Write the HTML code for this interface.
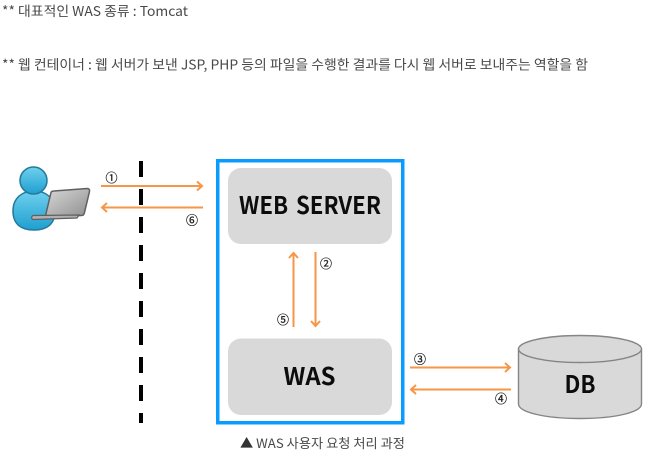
<!DOCTYPE html>
<html><head><meta charset="utf-8"><style>
html,body{margin:0;padding:0;background:#fff}
svg{display:block}
text{font-family:"Noto Sans CJK KR","Liberation Sans",sans-serif}
</style></head><body>
<svg width="665" height="470" viewBox="0 0 665 470" xmlns="http://www.w3.org/2000/svg">
<defs>
<linearGradient id="b" x1="0" y1="0" x2="0" y2="1"><stop offset="0" stop-color="#6fd0ee"/><stop offset="1" stop-color="#1f9fd0"/></linearGradient>
<linearGradient id="l" x1="0" y1="0" x2="1" y2="1"><stop offset="0" stop-color="#d8d8d8"/><stop offset="1" stop-color="#8f8f8f"/></linearGradient>
</defs>
<text x="2" y="16" font-size="13.500" fill="#484848" textLength="186" lengthAdjust="spacingAndGlyphs">** 대표적인 WAS 종류 : Tomcat</text>
<text x="2" y="69.500" font-size="13.500" fill="#484848" textLength="586" lengthAdjust="spacingAndGlyphs">** 웹 컨테이너 : 웹 서버가 보낸 JSP, PHP 등의 파일을 수행한 결과를 다시 웹 서버로 보내주는 역할을 함</text>

<!-- user -->
<path d="M13 211c0-13 9-20 21-20s21 7 21 20c0 13-8 19-21 19s-21-6-21-19z" fill="url(#b)" stroke="#23799b" stroke-width="1.500"/>
<circle cx="33.500" cy="180.500" r="13.500" fill="url(#b)" stroke="#23799b" stroke-width="1.500"/>
<path d="M54 191l33-2.500q3 0 2.500 3l-5 21q-.5 3-3 3l-34 1q-2 0-1.500-3l5-21q.5-1.500 3-1.500z" fill="url(#l)" stroke="#5f5f5f" stroke-width="1.500"/>
<path d="M33 215.500l46-.5-2 3-44 1.500q-3-2 0-4z" fill="#b0b0b0" stroke="#5f5f5f" stroke-width="1.200"/>

<!-- dashed -->
<line x1="141" y1="161" x2="141" y2="423" stroke="#000" stroke-width="4" stroke-dasharray="16 12"/>

<!-- arrows -->
<g fill="none" stroke="#f79646" stroke-width="2">
<path d="M101 186H202M197 181.500l5 4.500-5 4.500"/>
<path d="M203 207.500H102M107 203l-5 4.500 5 4.500"/>
<path d="M293.500 327V253M289 258l4.500-5 4.500 5"/>
<path d="M315.500 252V326M311 321l4.500 5 4.500-5"/>
<path d="M410 367.500H510M505 363l5 4.500-5 4.500"/>
<path d="M511 389.500H411M416 385l-5 4.500 5 4.500"/>
</g>

<!-- container -->
<rect x="217.750" y="160.750" width="185" height="262" fill="none" stroke="#0a9bff" stroke-width="3.500"/>
<rect x="228" y="168" width="164" height="76" rx="13" fill="#d9d9d9"/>
<rect x="228" y="338.500" width="164" height="76.500" rx="13" fill="#d9d9d9"/>
<text x="310" y="214" font-size="24" font-weight="700" fill="#0c0c0c" text-anchor="middle" word-spacing="3" textLength="142" lengthAdjust="spacingAndGlyphs">WEB SERVER</text>
<text x="309.500" y="385" font-size="24" font-weight="700" fill="#0c0c0c" text-anchor="middle" textLength="52" lengthAdjust="spacingAndGlyphs">WAS</text>

<!-- DB -->
<path d="M518.500 349V404C518.500 412 544 418.500 580 418.500S641.500 412 641.500 404V349z" fill="#d9d9d9" stroke="#858585" stroke-width="1.400"/>
<ellipse cx="580" cy="349" rx="61.500" ry="13.500" fill="#d9d9d9" stroke="#858585" stroke-width="1.400"/>
<text x="580" y="393" font-size="24" font-weight="700" fill="#0c0c0c" text-anchor="middle" textLength="31" lengthAdjust="spacingAndGlyphs">DB</text>

<!-- numbers -->
<g font-size="12" fill="#222" stroke="#222" stroke-width=".3" text-anchor="middle">
<text x="111.500" y="182">①</text>
<text x="192" y="224.500">⑥</text>
<text x="326" y="268">②</text>
<text x="283" y="324">⑤</text>
<text x="420" y="363.500">③</text>
<text x="501" y="403">④</text>
</g>

<text x="240" y="448" font-size="13" fill="#484848" textLength="165" lengthAdjust="spacingAndGlyphs"><tspan fill="#333">▲</tspan> WAS 사용자 요청 처리 과정</text>
</svg>
</body></html>
